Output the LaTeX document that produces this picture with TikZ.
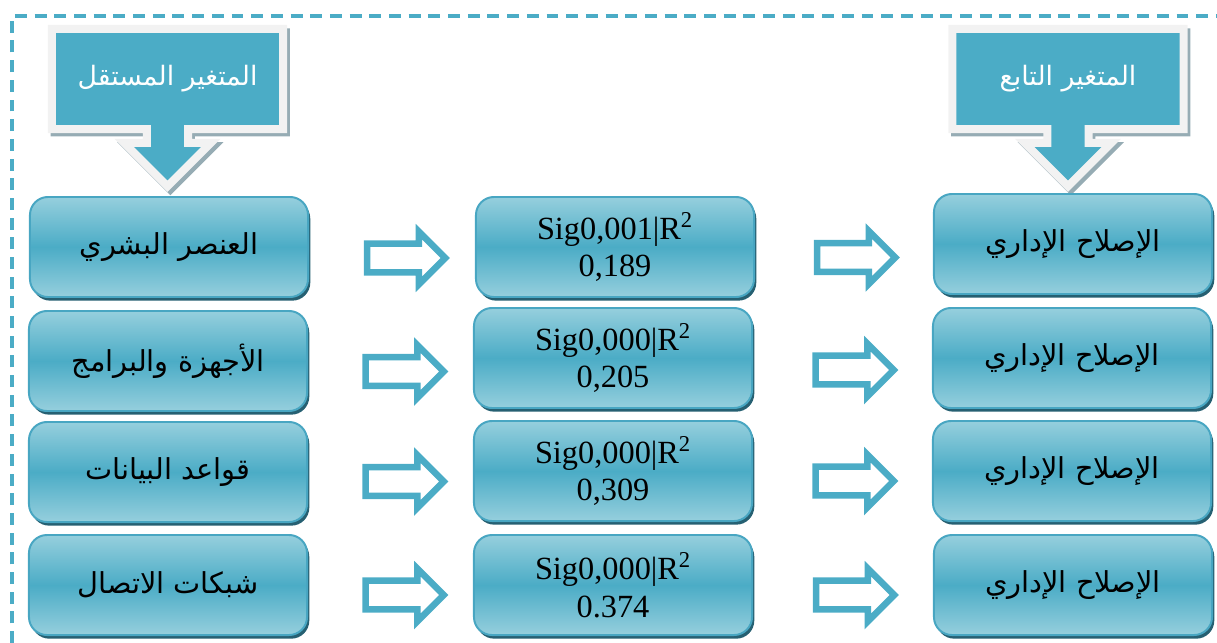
\documentclass[tikz,border=0pt]{standalone}
\usepackage{fontspec}
\setmainfont{Liberation Serif}
\newfontfamily\arabicfont[Script=Arabic]{DejaVu Sans}
\TeXXeTstate=1
\usetikzlibrary{shapes.arrows, calc}

\definecolor{aqua}{RGB}{75, 172, 198}
\definecolor{aqualight}{RGB}{150, 207, 221}
\definecolor{aquaedge}{RGB}{72, 166, 194}
\definecolor{aquashadow}{RGB}{38, 96, 114}
\definecolor{calloutrim}{RGB}{242, 242, 242}
\definecolor{calloutshadow}{RGB}{150, 172, 180}
\definecolor{frameblue}{RGB}{75, 172, 198}

\tikzset{
  varbox/.style={rectangle, rounded corners=0.45cm, draw=aquaedge, line width=1.4pt,
    top color=aqualight, bottom color=aqualight, middle color=aqua,
    minimum width=6.95cm, minimum height=2.5cm, align=center, inner sep=0pt,
    preaction={fill=aquashadow, transform canvas={xshift=1.6pt, yshift=-2.6pt}}},
  headbox/.style={arrow box, arrow box arrows={south:1.33cm}, arrow box shaft width=1.03cm,
    arrow box head extend=0.57cm, arrow box head indent=0pt,
    fill=aqua, draw=calloutrim, line width=5.7pt, text=white,
    minimum width=5.78cm, minimum height=2.5cm, inner sep=0pt,
    preaction={draw=calloutshadow, line width=5.7pt, transform canvas={xshift=2pt, yshift=-2.4pt}}},
  hollowarrow/.style={single arrow, draw=aqua, fill=white, line width=4.6pt,
    single arrow head extend=0.3cm, inner xsep=0pt, inner ysep=0.28cm,
    minimum height=1.95cm},
  arlabel/.style={font=\arabicfont\fontsize{20.5}{24}\selectfont},
  headlabel/.style={font=\arabicfont\fontsize{19}{22}\selectfont},
  siglabel/.style={font=\fontsize{23}{26.5}\selectfont}
}

\begin{document}
\begin{tikzpicture}[x=0.025cm, y=-0.025cm]
  \useasboundingbox (0,0) rectangle (1217,643);

  % dashed frame
  \draw[frameblue, line width=2.3pt, dash pattern=on 8.5pt off 5.5pt] (12,643) -- (12,16) -- (1217,16);

  % callout headers
  \node[headbox, headlabel] (indep) at (167.5,79) {\beginR المتغير المستقل\endR};
  \node[headbox, headlabel] (dep) at (1068,79) {\beginR المتغير التابع\endR};

  % independent variables
  \node[varbox, arlabel] (src1) at (169,247) {\beginR العنصر البشري\endR};
  \node[varbox, arlabel] (src2) at (168,361) {\beginR الأجهزة والبرامج\endR};
  \node[varbox, arlabel] (src3) at (168,472) {\beginR قواعد البيانات\endR};
  \node[varbox, arlabel] (src4) at (168,585) {\beginR شبكات الاتصال\endR};

  % regression results
  \node[varbox, siglabel] (sig1) at (615,247) {Sig0,001|R\textsuperscript{2}\\0,189};
  \node[varbox, siglabel] (sig2) at (613,358) {Sig0,000|R\textsuperscript{2}\\0,205};
  \node[varbox, siglabel] (sig3) at (613,471) {Sig0,000|R\textsuperscript{2}\\0,309};
  \node[varbox, siglabel] (sig4) at (613,585) {Sig0,000|R\textsuperscript{2}\\0.374};

  % dependent variable
  \node[varbox, arlabel] (out1) at (1073,244) {\beginR الإصلاح الإداري\endR};
  \node[varbox, arlabel] (out2) at (1072,358) {\beginR الإصلاح الإداري\endR};
  \node[varbox, arlabel] (out3) at (1072,471) {\beginR الإصلاح الإداري\endR};
  \node[varbox, arlabel] (out4) at (1073,585) {\beginR الإصلاح الإداري\endR};

  % hollow arrows between the columns
  \node[hollowarrow] (a1) at ($(src1.east)!0.5!(sig1.west)+(7,11)$) {};
  \node[hollowarrow] (a2) at ($(src2.east)!0.5!(sig2.west)+(7,12)$) {};
  \node[hollowarrow] (a3) at ($(src3.east)!0.5!(sig3.west)+(7,10)$) {};
  \node[hollowarrow] (a4) at ($(src4.east)!0.5!(sig4.west)+(7,10)$) {};
  \node[hollowarrow] (b1) at ($(sig1.east)!0.5!(out1.west)+(5,12)$) {};
  \node[hollowarrow] (b2) at ($(sig2.east)!0.5!(out2.west)+(5,12)$) {};
  \node[hollowarrow] (b3) at ($(sig3.east)!0.5!(out3.west)+(5,10)$) {};
  \node[hollowarrow] (b4) at ($(sig4.east)!0.5!(out4.west)+(5,10)$) {};
\end{tikzpicture}
\end{document}
